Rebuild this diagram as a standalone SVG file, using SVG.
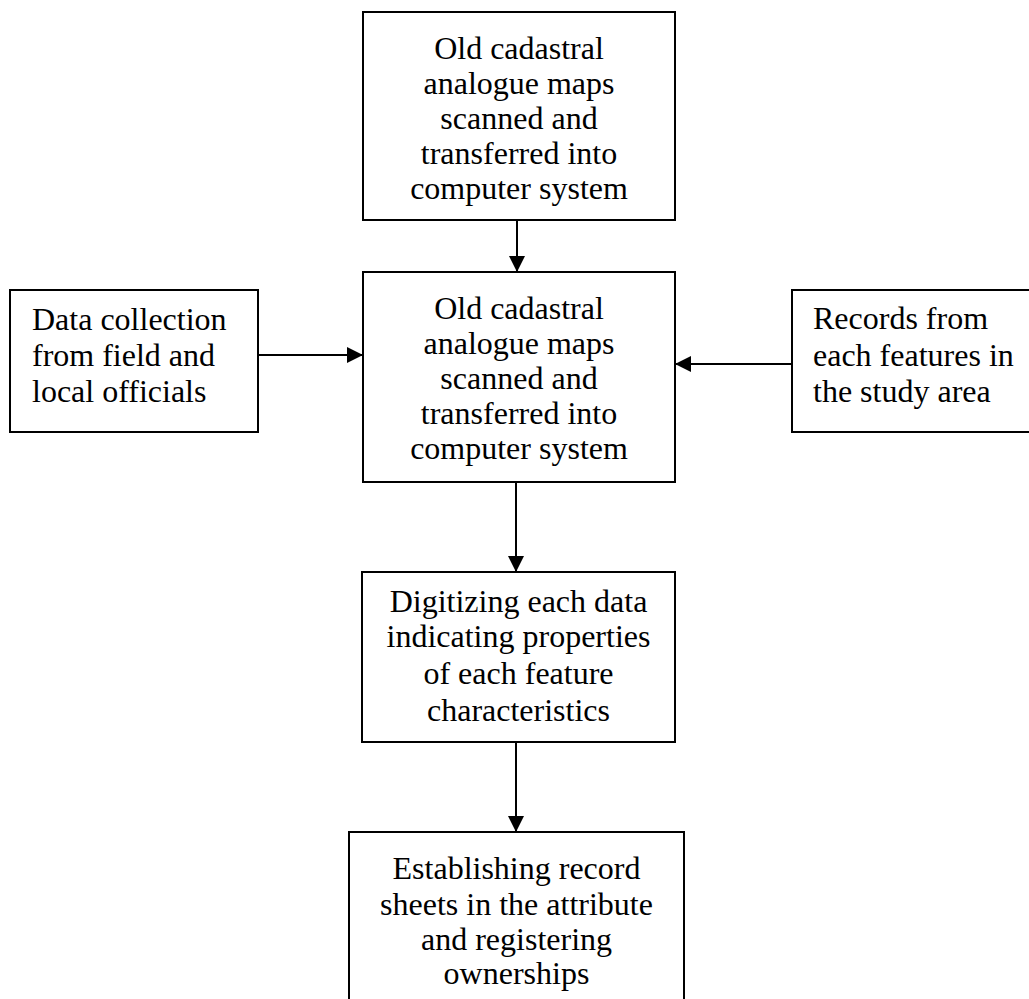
<svg xmlns="http://www.w3.org/2000/svg" width="1029" height="999" viewBox="0 0 1029 999">
<style>
.box{fill:#fff;stroke:#000;stroke-width:2}
.t{font-family:"Liberation Serif","Times New Roman",serif;font-size:32px;fill:#000}
.c{text-anchor:middle}
.conn{stroke:#000;stroke-width:2;fill:none}
</style>
<defs>
<marker id="ah" markerWidth="16" markerHeight="16" refX="16" refY="8" orient="auto" markerUnits="userSpaceOnUse">
<path d="M0,0 L16,8 L0,16 Z" fill="#000"/>
</marker>
</defs>
<rect width="1029" height="999" fill="#fff"/>
<g id="n1">
<rect class="box" x="363" y="12" width="312" height="208"/>
<text class="t c"><tspan x="519" y="59">Old cadastral</tspan><tspan x="519" y="94">analogue maps</tspan><tspan x="519" y="129">scanned and</tspan><tspan x="519" y="164">transferred into</tspan><tspan x="519" y="199">computer system</tspan></text>
</g>
<g id="n2">
<rect class="box" x="363" y="272" width="312" height="210"/>
<text class="t c"><tspan x="519" y="319">Old cadastral</tspan><tspan x="519" y="354">analogue maps</tspan><tspan x="519" y="389">scanned and</tspan><tspan x="519" y="424">transferred into</tspan><tspan x="519" y="459">computer system</tspan></text>
</g>
<g id="n3">
<rect class="box" x="10" y="290" width="248" height="142"/>
<text class="t"><tspan x="32" y="330">Data collection</tspan><tspan x="32" y="366">from field and</tspan><tspan x="32" y="402">local officials</tspan></text>
</g>
<g id="n4">
<rect class="box" x="792" y="290" width="240" height="142"/>
<text class="t"><tspan x="813" y="329">Records from</tspan><tspan x="813" y="366">each features in</tspan><tspan x="813" y="402">the study area</tspan></text>
</g>
<g id="n5">
<rect class="box" x="362" y="572" width="313" height="170"/>
<text class="t c"><tspan x="518.5" y="612">Digitizing each data</tspan><tspan x="518.5" y="647">indicating properties</tspan><tspan x="518.5" y="684">of each feature</tspan><tspan x="518.5" y="721">characteristics</tspan></text>
</g>
<g id="n6">
<rect class="box" x="349" y="832" width="335" height="180"/>
<text class="t c"><tspan x="516.5" y="879">Establishing record</tspan><tspan x="516.5" y="915">sheets in the attribute</tspan><tspan x="516.5" y="950">and registering</tspan><tspan x="516.5" y="984">ownerships</tspan></text>
</g>
<g id="connectors">
<line class="conn" x1="517" y1="220" x2="517" y2="272" marker-end="url(#ah)"/>
<line class="conn" x1="258" y1="355" x2="363" y2="355" marker-end="url(#ah)"/>
<line class="conn" x1="792" y1="364" x2="675" y2="364" marker-end="url(#ah)"/>
<line class="conn" x1="516" y1="482" x2="516" y2="572" marker-end="url(#ah)"/>
<line class="conn" x1="516" y1="742" x2="516" y2="832" marker-end="url(#ah)"/>
</g>
</svg>
